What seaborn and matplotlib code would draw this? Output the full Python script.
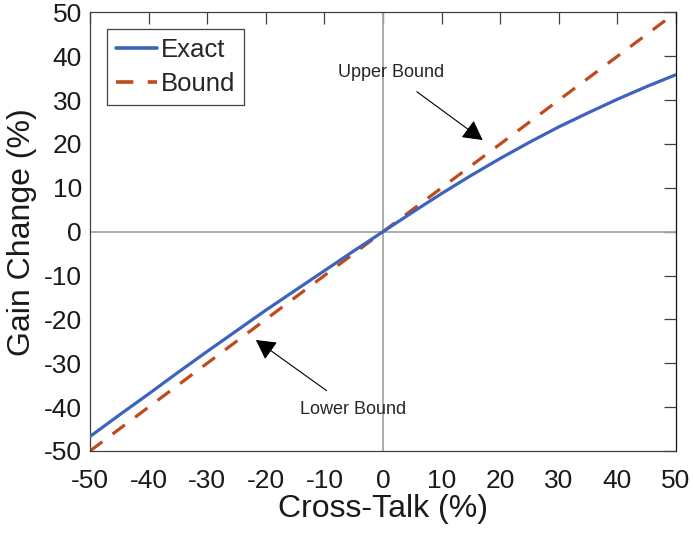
import numpy as np
import pandas as pd
import matplotlib
matplotlib.use("Agg")
import matplotlib.pyplot as plt
import seaborn as sns

# valores
cross_talk = [-50, -45, -40, -35, -30, -25, -20, -15, -10, -5, 0,
              5, 10, 15, 20, 25, 30, 35, 40, 45, 50]
exact = [-46.7, -41.8, -37.0, -32.1, -27.3, -22.6, -17.9, -13.4, -8.9, -4.4, 0.0,
         4.4, 8.7, 12.8, 16.7, 20.4, 23.9, 27.1, 30.2, 33.1, 35.8]
bound = [-50, -45, -40, -35, -30, -25, -20, -15, -10, -5, 0,
         5, 10, 15, 20, 25, 30, 35, 40, 45, 50]
ticks = [-50, -40, -30, -20, -10, 0, 10, 20, 30, 40, 50]

data = pd.DataFrame({"x": cross_talk, "exact": exact, "bound": bound})

sns.set_style("white")
plt.rcParams["font.family"] = ["Liberation Sans", "DejaVu Sans"]
plt.rcParams["axes.unicode_minus"] = False

fig = plt.figure(figsize=(6.93, 5.4), dpi=100)
ax = fig.add_axes([0.130, 0.165, 0.8455, 0.812])

ax.axhline(0, color="#a6a6a6", lw=1.3, zorder=1)
ax.axvline(0, color="#a6a6a6", lw=1.3, zorder=1)

sns.lineplot(data=data, x="x", y="exact", ax=ax, color="#3d63bf", lw=2.3,
             label="Exact", zorder=3)
sns.lineplot(data=data, x="x", y="bound", ax=ax, color="#c04a1c", lw=2.3,
             label="Bound", zorder=2)
ax.lines[-1].set_dashes((4.8, 4.0))

ax.set_xlim(-50, 50)
ax.set_ylim(-50, 50)
ax.set_xticks(ticks)
ax.set_yticks(ticks)
ax.tick_params(direction="in", length=8.5, width=0.9, color="#404040",
               labelsize=19, top=True, right=True, pad=6,
               labelcolor="#1a1a1a")
ax.tick_params(axis="x", pad=13)
for s in ax.spines.values():
    s.set_color("#404040")
    s.set_linewidth(0.9)
ax.spines["right"].set_color("#111111")

ax.set_xlabel("Cross-Talk (%)", fontsize=23, labelpad=1, color="#1a1a1a")
ax.set_ylabel("Gain Change (%)", fontsize=23, labelpad=5, color="#1a1a1a")

leg = ax.legend(loc="upper left", fontsize=18.5, handlelength=1.6,
                handletextpad=0.15, borderpad=0.35, labelspacing=0.38,
                borderaxespad=0.65, fancybox=False, framealpha=1)
leg.get_frame().set_edgecolor("#404040")
leg.get_frame().set_linewidth(0.9)
for h in leg.get_lines():
    h.set_linewidth(2.6)

ax.annotate("Upper Bound", xy=(17.0, 20.9), xytext=(1.3, 36.3),
            ha="center", va="center", fontsize=13,
            arrowprops=dict(arrowstyle="-|>,head_length=0.55,head_width=0.3",
                            color="k", lw=0.8,
                            mutation_scale=22, shrinkA=9, shrinkB=0))
ax.annotate("Lower Bound", xy=(-21.7, -24.7), xytext=(-5.1, -40.6),
            ha="center", va="center", fontsize=13,
            arrowprops=dict(arrowstyle="-|>,head_length=0.55,head_width=0.3",
                            color="k", lw=0.8,
                            mutation_scale=22, shrinkA=9, shrinkB=0))

fig.savefig("out.png", dpi=100)
